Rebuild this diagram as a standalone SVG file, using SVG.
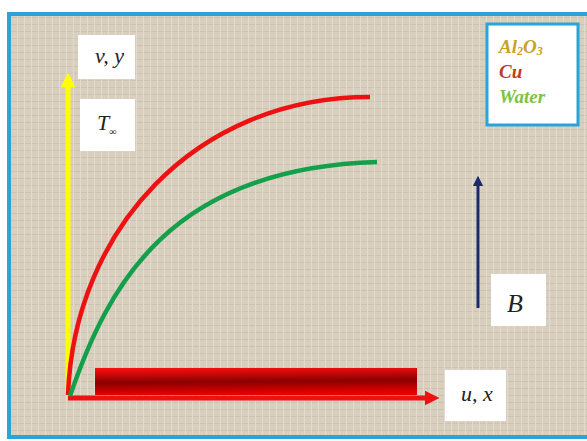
<svg xmlns="http://www.w3.org/2000/svg" width="587" height="441" viewBox="0 0 587 441">
<defs>
<pattern id="linen" width="7" height="7" patternUnits="userSpaceOnUse">
<rect width="7" height="7" fill="#d8cfbf"/>
<path d="M0 3.5H7" stroke="#cdc3b3" stroke-width="1"/>
<path d="M3.5 0V7" stroke="#e2dbce" stroke-width="1"/>
</pattern>
<linearGradient id="bar" x1="0" y1="0" x2="0.12" y2="1">
<stop offset="0" stop-color="#ff1010"/>
<stop offset="0.55" stop-color="#8a0000"/>
<stop offset="1" stop-color="#e80000"/>
</linearGradient>
<marker id="ah-yellow" viewBox="0 0 10 10" refX="5" refY="5" markerWidth="3" markerHeight="3" orient="auto"><path d="M0 0L10 5L0 10z" fill="#ffff00"/></marker>
<marker id="ah-red" viewBox="0 0 10 10" refX="5" refY="5" markerWidth="3" markerHeight="3" orient="auto"><path d="M0 0L10 5L0 10z" fill="#ee1111"/></marker>
<marker id="ah-blue" viewBox="0 0 10 10" refX="5" refY="5" markerWidth="3.5" markerHeight="3.5" orient="auto"><path d="M0 0L10 5L0 10z" fill="#1b2a6b"/></marker>
</defs>
<style>
.lbl{fill:#ffffff}
.math{font-family:"Liberation Serif","Times New Roman",serif;font-style:italic;fill:#222}
.leg{font-family:"Liberation Serif","Times New Roman",serif;font-style:italic;font-weight:bold;font-size:19px}
</style>
<rect width="587" height="441" fill="#ffffff"/>
<rect x="9" y="14" width="590" height="423" fill="url(#linen)" stroke="#2aa3d8" stroke-width="4"/>
<g id="connectors" fill="none">
<path d="M68,396 V80" stroke="#ffff00" stroke-width="5" marker-end="url(#ah-yellow)"/>
<path d="M68,398 H432" stroke="#ee1111" stroke-width="5" marker-end="url(#ah-red)"/>
<path d="M478,308 V181" stroke="#1b2a6b" stroke-width="3" marker-end="url(#ah-blue)"/>
<path d="M68,395 C74,230 195,97 370,97" stroke="#ee1111" stroke-width="4.5"/>
<path d="M70,396 C108,285 170,168 377,162" stroke="#14a04a" stroke-width="4.5"/>
</g>
<g id="plate"><rect x="95" y="368" width="322" height="27" fill="url(#bar)"/></g>
<g id="label-vy"><rect class="lbl" x="78" y="35" width="57" height="44"/><text class="math" x="95" y="63" font-size="22">v, y</text></g>
<g id="label-Tinf"><rect class="lbl" x="80" y="99" width="55" height="52"/><text class="math" x="97" y="130" font-size="22">T<tspan font-size="10" dy="5">∞</tspan></text></g>
<g id="label-ux"><rect class="lbl" x="445" y="370" width="61" height="51"/><text class="math" x="461" y="401" font-size="22">u, x</text></g>
<g id="label-B"><rect class="lbl" x="491" y="274" width="55" height="52"/><text class="math" x="507" y="312" font-size="26">B</text></g>
<g id="legend">
<rect x="487" y="24" width="91" height="101" fill="#ffffff" stroke="#2aa3d8" stroke-width="3"/>
<text class="leg" x="499" y="53" fill="#c9a227">Al<tspan font-size="12" dy="2">2</tspan><tspan dy="-2">O</tspan><tspan font-size="12" dy="2">3</tspan></text>
<text class="leg" x="499" y="78" fill="#c0392b">Cu</text>
<text class="leg" x="499" y="103" fill="#7dc242">Water</text>
</g>
</svg>
